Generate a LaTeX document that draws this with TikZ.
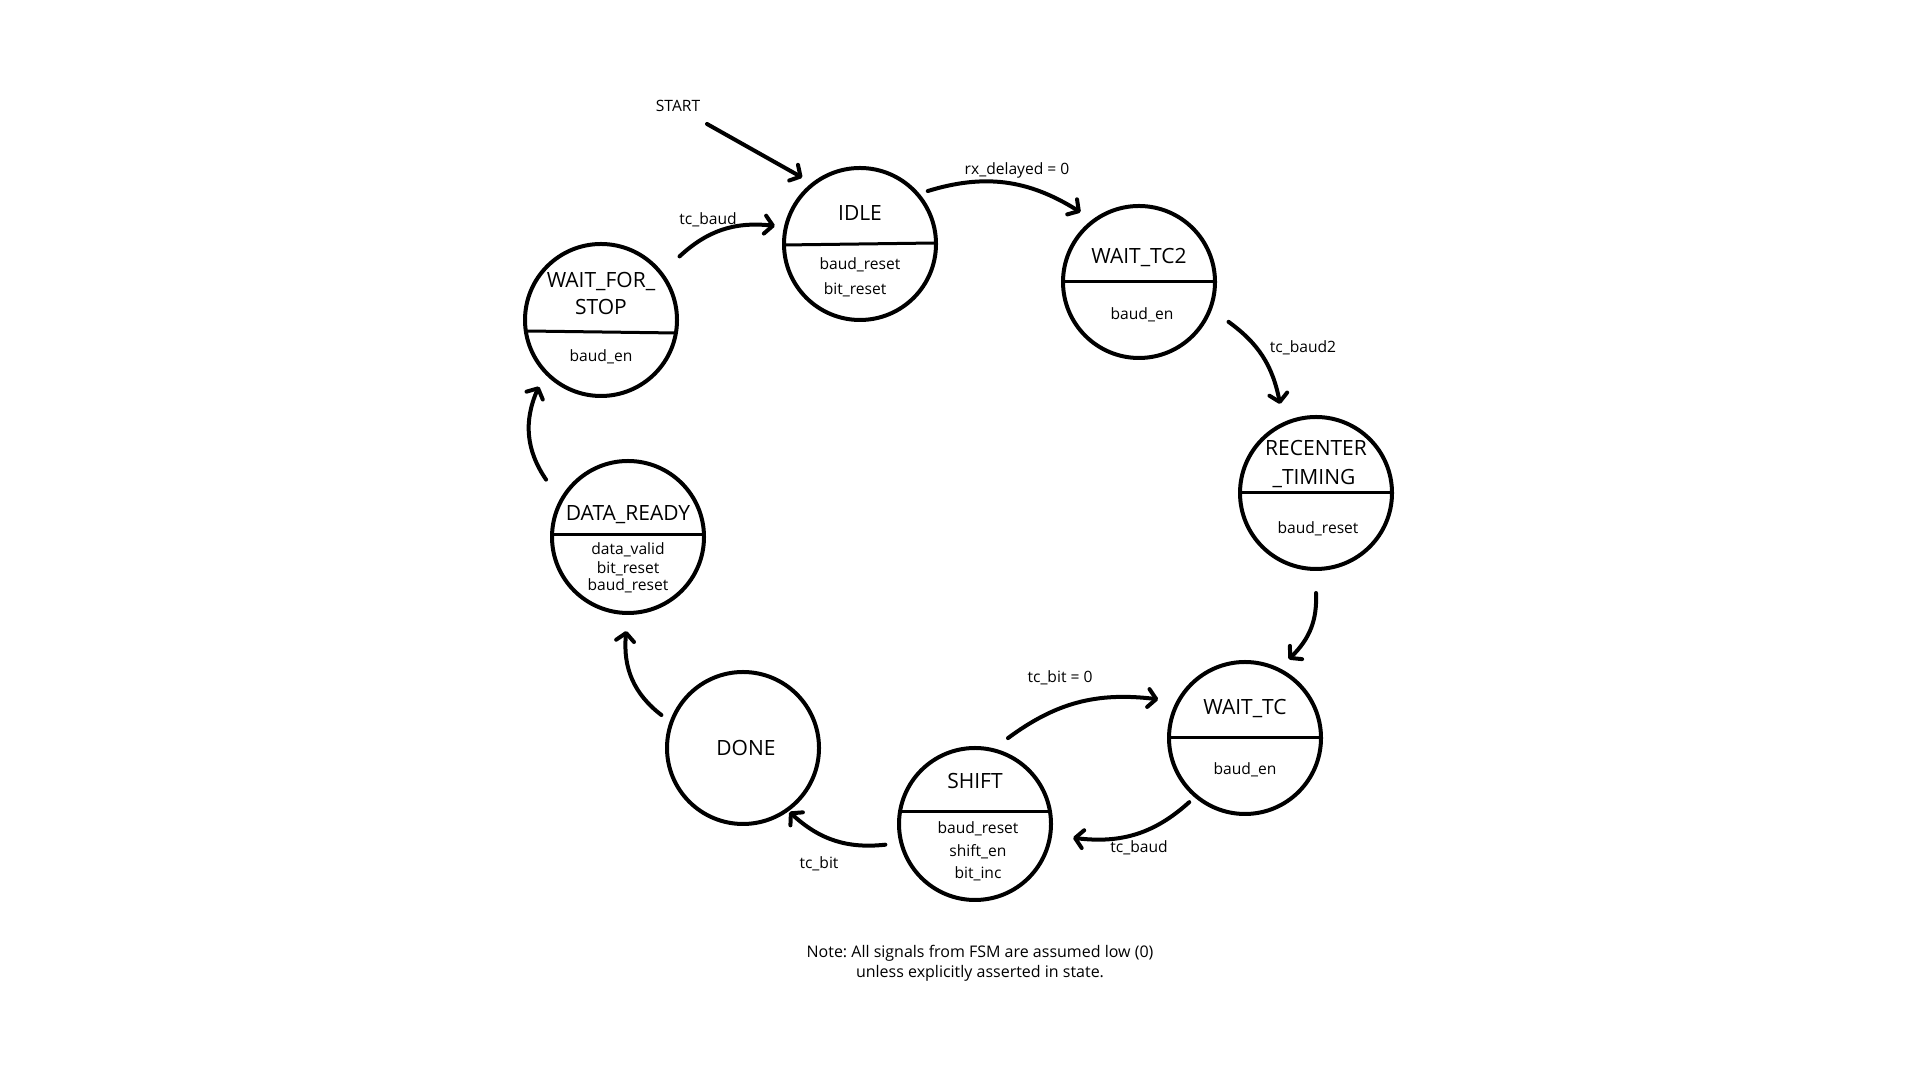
\documentclass[tikz,border=0pt]{standalone}
\usepackage{fontspec}
\setmainfont{Open Sans}
\usetikzlibrary{arrows.meta,calc,bending}
\frenchspacing

\begin{document}
\begin{tikzpicture}[x=0.5pt,y=0.5pt,
  state/.style={circle,draw,line width=2pt,minimum size=76pt,inner sep=0pt,outer sep=0pt},
  divider/.style={line width=1.5pt},
  title/.style={font=\fontsize{10.5}{12}\selectfont,inner sep=0pt,text height=7.5pt,text depth=0pt},
  body/.style={font=\fontsize{7.8}{9}\selectfont,inner sep=0pt,text height=5.8pt,text depth=0pt},
  lbl/.style={font=\fontsize{7.8}{9}\selectfont,inner sep=0pt,text height=5.8pt,text depth=0pt},
  note/.style={font=\fontsize{8}{9}\selectfont,inner sep=0pt,text height=5.8pt,text depth=0pt},
  trans/.style={line width=2pt,line cap=round,-{Straight Barb[length=4pt,width=9pt,line cap=round,line join=round]}},
]
\fill[white] (0,0) rectangle (1920,1080);
\useasboundingbox (0,0) rectangle (1920,1080);

% states
\node[state] (idle)  at (860,836) {};
\node[state] (wtc2)  at (1139,798) {};
\node[state] (rec)   at (1316,587) {};
\node[state] (wtc)   at (1245,342) {};
\node[state] (shift) at (975,256) {};
\node[state] (done)  at (743,332) {};
\node[state] (dr)    at (628,543) {};
\node[state] (wfs)   at (601,760) {};

% IDLE
\draw[divider] ($(idle)+(-76,-1)$) -- ($(idle)+(76,1)$);
\node[title] (idleT) at ($(idle)+(0,31)$) {IDLE};
\node[body] (idleA) at ($(idle)+(0,-20)$) {baud\_reset};
\node[body] (idleB) at ($(idle)+(-5,-45)$) {bit\_reset};

% WAIT_TC2
\draw[divider] ($(wtc2)+(-76,0)$) -- ($(wtc2)+(76,0)$);
\node[title] (wtc2T) at ($(wtc2)+(0,26)$) {WAIT\_TC2};
\node[body] (wtc2A) at ($(wtc2)+(3,-32)$) {baud\_en};

% RECENTER_TIMING
\draw[divider] ($(rec)+(-76,0)$) -- ($(rec)+(76,0)$);
\node[title] (recT1) at ($(rec)+(0,45)$) {RECENTER};
\node[title] (recT2) at ($(rec)+(-2,16)$) {\_TIMING};
\node[body] (recA) at ($(rec)+(2,-35)$) {baud\_reset};

% WAIT_TC
\draw[divider] ($(wtc)+(-76,0)$) -- ($(wtc)+(76,0)$);
\node[title] (wtcT) at ($(wtc)+(0,31)$) {WAIT\_TC};
\node[body] (wtcA) at ($(wtc)+(0,-31)$) {baud\_en};

% SHIFT
\draw[divider] ($(shift)+(-75,12)$) -- ($(shift)+(75,12)$);
\node[title] (shiftT) at ($(shift)+(0,43)$) {SHIFT};
\node[body] (shiftA) at ($(shift)+(3,-4)$) {baud\_reset};
\node[body] (shiftB) at ($(shift)+(3,-27)$) {shift\_en};
\node[body] (shiftC) at ($(shift)+(3,-49)$) {bit\_inc};

% DONE
\node[title] (doneT) at ($(done)+(3,0)$) {DONE};

% DATA_READY
\draw[divider] ($(dr)+(-76,2)$) -- ($(dr)+(76,2)$);
\node[title] (drT) at ($(dr)+(0,24)$) {DATA\_READY};
\node[body] (drA) at ($(dr)+(0,-12)$) {data\_valid};
\node[body] (drB) at ($(dr)+(0,-31)$) {bit\_reset};
\node[body] (drC) at ($(dr)+(0,-48)$) {baud\_reset};

% WAIT_FOR_STOP
\draw[divider] ($(wfs)+(-75,-11)$) -- ($(wfs)+(75,-13)$);
\node[title] (wfsT1) at ($(wfs)+(0,40)$) {WAIT\_FOR\_};
\node[title] (wfsT2) at ($(wfs)+(0,13)$) {STOP};
\node[body] (wfsA) at ($(wfs)+(0,-36)$) {baud\_en};

% entry
\node[lbl] (start) at (678,974) {START};
\draw[trans] ($(start)+(29,-18)$) -- ($(idle)+(131:88)$);

% transitions
\draw[trans] ($(idle)+(38:86)$) to[bend left=25] ($(wtc2)+(130:91)$);
\draw[trans] ($(wtc2)+(-24:98)$) to[bend left=22] ($(rec)+(112:96)$);
\draw[trans] ($(rec)+(-90:100)$) to[bend left=25] ($(wtc)+(61:90)$);
\draw[trans] ($(wtc)+(229:85)$) to[bend left=25] ($(shift)+(-8:99)$);
\draw[trans] ($(shift)+(69:92)$) to[bend left=22] ($(wtc)+(156:95)$);
\draw[trans] ($(shift)+(193:92)$) to[bend left=25] ($(done)+(-54:79)$);
\draw[trans] ($(done)+(158:88)$) to[bend left=30] ($(dr)+(-91:94)$);
\draw[trans] ($(dr)+(145:100)$) to[bend left=30] ($(wfs)+(227:91)$);
\draw[trans] ($(wfs)+(39:101)$) to[bend left=25] ($(idle)+(168:87)$);

% transition labels
\node[lbl] (l1) at (1017,911) {rx\_delayed = 0};
\node[lbl] (l2) at (1303,733) {tc\_baud2};
\node[lbl] (l3) at (1060,403) {tc\_bit = 0};
\node[lbl] (l4) at (1139,233) {tc\_baud};
\node[lbl] (l5) at (819,217) {tc\_bit};
\node[lbl] (l6) at (708,861) {tc\_baud};

% footnote
\node[note] (n1) at (980,128) {Note: All signals from FSM are assumed low (0)};
\node[note] (n2) at (980,108) {unless explicitly asserted in state.};
\end{tikzpicture}
\end{document}
